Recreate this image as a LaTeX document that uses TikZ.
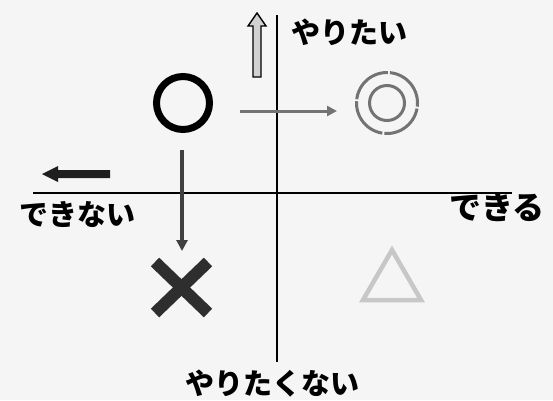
\documentclass[tikz,border=0pt]{standalone}
\usepackage{fontspec}
\newfontfamily\jp{Noto Sans CJK JP}
\usepackage{tikz}
\usetikzlibrary{arrows.meta, positioning, calc}

\begin{document}
\begin{tikzpicture}[x=1pt, y=-1pt, every node/.style={outer sep=0pt},
    label/.style={font=\jp\bfseries\fontsize{29}{29}\selectfont, inner sep=0pt},
    axis/.style={line width=2.8pt, black}]
    % Background
    \fill[black!4] (0,0) rectangle (553,400);
    \useasboundingbox (0,0) rectangle (553,400);

    % Axes
    \coordinate (left) at (33,193);
    \coordinate (right) at (512,193);
    \coordinate (top) at (277,15);
    \coordinate (bottom) at (277,362);
    \draw[axis] (left) -- (right);
    \draw[axis] (top) -- (bottom);

    % Labels
    \node[label] (want) at (349,32) {やりたい};
    \node[label] (notwant) at (272,384) {やりたくない};
    \node[label] (cannot) at (77,215) {できない};
    \node[label, font=\jp\bfseries\fontsize{32}{32}\selectfont] (can) at (497,207) {できる};

    % Hollow arrow up
    \draw[line width=1.4pt, fill=black!18] (253,77) -- (253,26) -- (248,26) -- (257,13)
        -- (266,26) -- (261,26) -- (261,77) -- cycle;

    % Filled arrow left
    \fill[black!88] (110,170) -- (58,170) -- (58,166) -- (42,174) -- (58,182)
        -- (58,178) -- (110,178) -- cycle;

    % Circle
    \node[draw, circle, line width=7pt, minimum size=53pt, inner sep=0pt] (good) at (183,103) {};

    % Gray arrow right
    \coordinate (gstart) at (240,111);
    \coordinate (gend) at (337,111);
    \draw[black!55, line width=3pt, -{Triangle[length=10pt, width=10pt]}] (gstart) -- (gend);

    % Double circle
    \node[draw=black!55, circle, line width=3pt, minimum size=61pt, inner sep=0pt,
        dash pattern=on 45pt off 2pt] (best) at (387,103) {};
    \node[draw=black!55, circle, line width=3pt, minimum size=35pt, inner sep=0pt] (bestin) at (387,103) {};

    % Dark arrow down
    \coordinate (dstart) at (182,150);
    \coordinate (dend) at (182,251);
    \draw[black!75, line width=3.5pt, -{Triangle[length=11pt, width=11pt]}] (dstart) -- (dend);

    % Cross
    \draw[black!82, line width=12pt] (155,262) -- (208,313);
    \draw[black!82, line width=12pt] (208,262) -- (155,313);

    % Triangle
    \draw[black!22, line width=4.5pt, line join=miter] (392,250) -- (421,300) -- (363,300) -- cycle;
\end{tikzpicture}
\end{document}
